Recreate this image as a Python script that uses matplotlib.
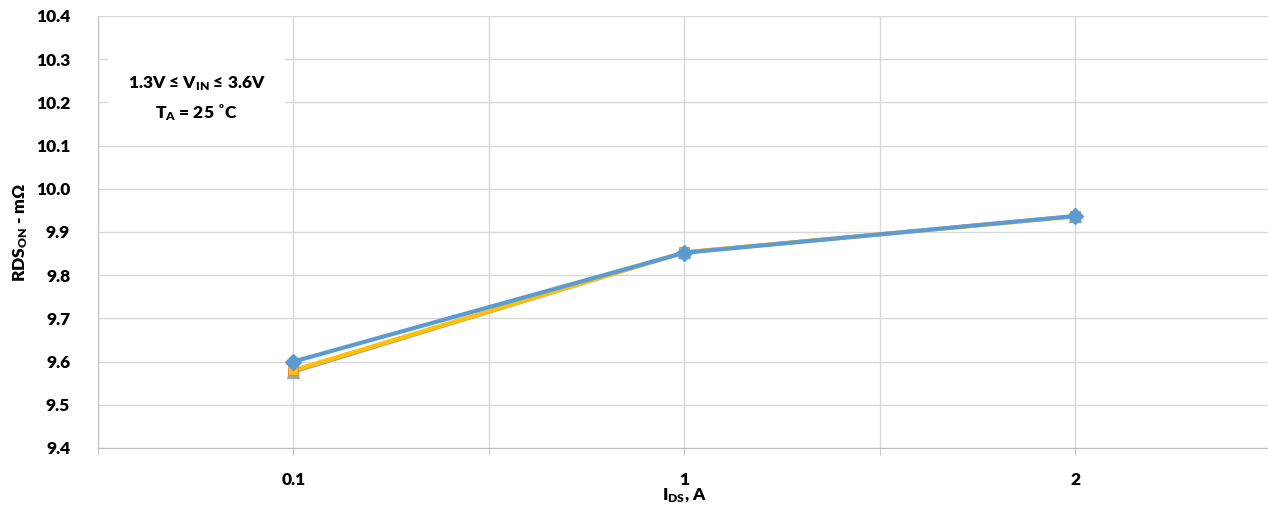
import matplotlib.pyplot as plt

plt.rcParams['font.family'] = ['Lato', 'DejaVu Sans']
plt.rcParams['font.weight'] = 'heavy'
plt.rcParams['axes.labelweight'] = 'heavy'
plt.rcParams['mathtext.fontset'] = 'custom'
plt.rcParams['mathtext.rm'] = 'Lato:heavy'
plt.rcParams['mathtext.it'] = 'Lato:heavy'
plt.rcParams['mathtext.bf'] = 'Lato:heavy'

categories = ["0.1", "1", "2"]
gray_vals = [9.576, 9.853, 9.937]
yellow_vals = [9.580, 9.853, 9.936]
blue_vals = [9.600, 9.852, 9.937]

x = list(range(len(categories)))

fig = plt.figure(figsize=(12.68, 5.05), dpi=100)
ax = fig.add_axes([0.0773, 0.1129, 0.925, 0.8555])

ax.plot(x, gray_vals, color="#A5A5A5", lw=2.5, marker="^", ms=9, zorder=3)
ax.plot(x, yellow_vals, color="#FFC000", lw=3, marker="s", ms=7,
        mec="#ED7D31", mew=0.6, zorder=4)
ax.plot(x, blue_vals, color="#5B9BD5", lw=3, marker="D", ms=8, zorder=5)

ax.set_xlim(-0.5, 2.5)
ax.set_ylim(9.4, 10.4)
ax.set_yticks([9.4 + 0.1 * i for i in range(11)])
ax.set_yticklabels([f"{9.4 + 0.1 * i:.1f}" for i in range(11)])
ax.set_xticks(x)
ax.set_xticklabels(categories)
ax.set_xticks([-0.5, 0.5, 1.5, 2.5], minor=True)
ax.tick_params(axis="x", which="both", length=5, color="#BFBFBF", direction="out")
ax.tick_params(axis="x", which="major", pad=12, labelsize=12.5)
ax.tick_params(axis="y", length=0, pad=20, labelsize=12.5)

ax.grid(True, which="both", color="#D9D9D9", lw=1)
ax.set_axisbelow(True)
for s in ["top", "right"]:
    ax.spines[s].set_visible(False)
for s in ["left", "bottom"]:
    ax.spines[s].set_color("#BFBFBF")

ax.set_ylabel(r"RDS$_{\mathrm{ON}}$ - m$\Omega$", fontsize=12.5, labelpad=4)
ax.set_xlabel(r"I$_{\mathrm{DS}}$, A", fontsize=12.5, labelpad=-1)

ax.text(0.084, 0.808, "1.3V \u2264 V$_{\\mathrm{IN}}$ \u2264 3.6V\nT$_{\\mathrm{A}}$ = 25 \u02daC",
        transform=ax.transAxes, ha="center", va="center", fontsize=12.5,
        linespacing=1.6,
        bbox=dict(facecolor="white", edgecolor="none", pad=14))

fig.savefig("out.png", dpi=100)
